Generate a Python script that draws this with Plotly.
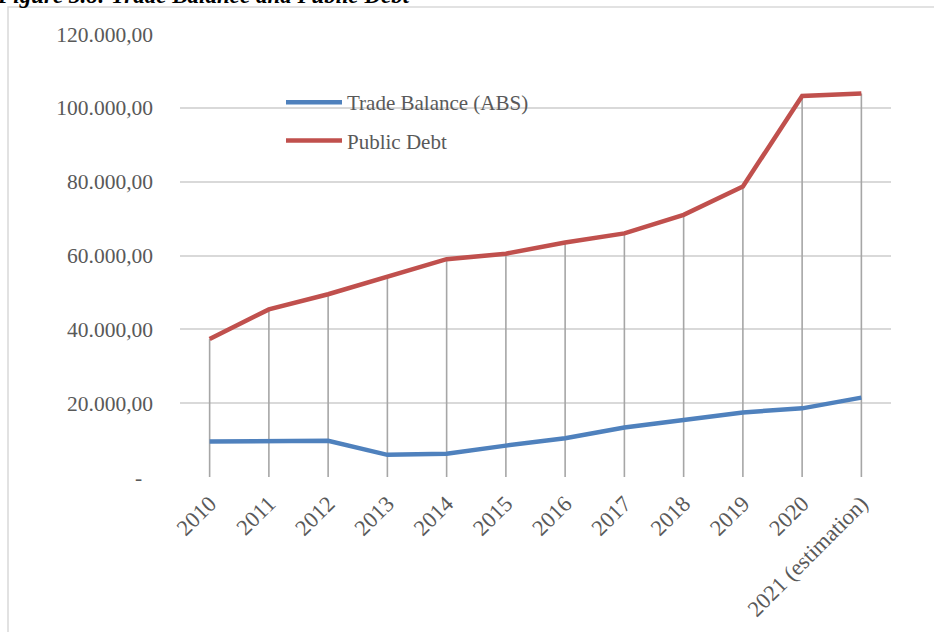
import plotly.graph_objects as go

years = ["2010", "2011", "2012", "2013", "2014", "2015", "2016", "2017",
         "2018", "2019", "2020", "2021 (estimation)"]
trade_balance = [9600, 9700, 9800, 6000, 6300, 8500, 10500, 13400,
                 15400, 17500, 18600, 21500]
public_debt = [37400, 45400, 49500, 54200, 59000, 60500, 63500, 66000,
               71000, 78700, 103200, 103900]
y_ticks = [0, 20000, 40000, 60000, 80000, 100000, 120000]
y_ticktext = ["-\u00a0\u00a0", "20.000,00", "40.000,00", "60.000,00",
              "80.000,00", "100.000,00", "120.000,00"]
title_text = "Figure 3.8: Trade Balance and Public Debt"

FONT = "Liberation Serif"
W, H = 934, 632
L, R, T, B = 180, 43, 34, 155
pw, ph = W - L - R, H - T - B


def px_x(p):
    return (p - L) / pw


def px_y(p):
    return (H - B - p) / ph


# drop lines from highest value down to axis
drop_x, drop_y = [], []
for c, a, b in zip(years, trade_balance, public_debt):
    drop_x += [c, c, None]
    drop_y += [0, max(a, b), None]

fig = go.Figure()
fig.add_trace(go.Scatter(x=drop_x, y=drop_y, mode="lines",
                         line=dict(color="#A6A6A6", width=1.6),
                         showlegend=False, hoverinfo="skip"))
fig.add_trace(go.Scatter(x=years, y=trade_balance, mode="lines",
                         name="Trade Balance (ABS)", legendgroup="a",
                         line=dict(color="#4F81BD", width=4.5)))
fig.add_trace(go.Scatter(x=years, y=public_debt, mode="lines",
                         name="Public Debt", legendgroup="b",
                         line=dict(color="#C0504D", width=4.5)))

fig.update_layout(
    width=W, height=H,
    margin=dict(l=L, r=R, t=T, b=B),
    paper_bgcolor="white", plot_bgcolor="white",
    font=dict(family=FONT, size=21, color="#595959"),
    legend=dict(x=px_x(281), y=px_y(82), xanchor="left", yanchor="top",
                traceorder="grouped", tracegroupgap=8, itemwidth=56,
                font=dict(family=FONT, size=21, color="#595959"),
                bgcolor="rgba(0,0,0,0)"),
    xaxis=dict(type="category", range=[-0.5, 11.5], showgrid=False,
               tickangle=-45, ticks="", showline=False, zeroline=False,
               ticklabelstandoff=8,
               tickfont=dict(family=FONT, size=22.5, color="#595959")),
    yaxis=dict(range=[0, 120000], tickvals=y_ticks, ticktext=y_ticktext,
               showgrid=True, gridcolor="#D9D9D9", gridwidth=1.5,
               zeroline=False, showline=False, ticks="",
               ticklabelstandoff=26,
               tickfont=dict(family=FONT, size=21.5, color="#595959")),
    shapes=[dict(type="rect", xref="paper", yref="paper",
                 x0=px_x(8), x1=px_x(960), y0=px_y(660), y1=px_y(7),
                 line=dict(color="#D9D9D9", width=1.5), layer="below")],
    annotations=[dict(text=title_text, xref="paper", yref="paper",
                      x=px_x(412), y=px_y(10), xanchor="right",
                      yanchor="bottom", showarrow=False,
                      font=dict(family=FONT, size=23, color="#000000",
                                style="italic", weight="bold"))],
)

fig.write_html("out.html", config={"displayModeBar": False},
               post_script="document.body.style.margin='0';"
                           "document.body.style.overflow='hidden';")
